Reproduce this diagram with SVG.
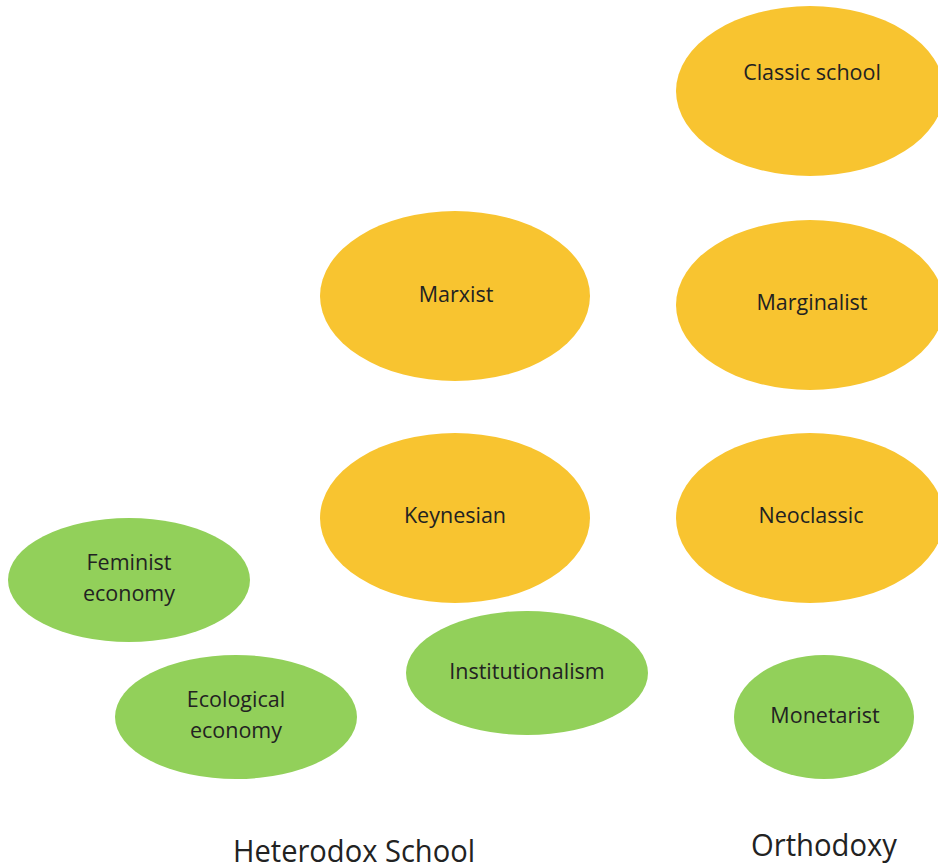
<svg xmlns="http://www.w3.org/2000/svg" width="938" height="867" viewBox="0 0 938 867">
<style>
.o{fill:#F8C430}
.g{fill:#92D05A}
.t{font-family:"Open Sans","Noto Sans",sans-serif;font-size:21.5px;fill:#222;text-anchor:middle}
.b{font-family:"Open Sans","Noto Sans",sans-serif;font-size:31px;fill:#222;text-anchor:middle}
</style>
<rect width="938" height="867" fill="#fff"/>
<g id="classic"><ellipse class="o" cx="810" cy="91" rx="134" ry="85"/><text class="t" x="812" y="80">Classic school</text></g>
<g id="marxist"><ellipse class="o" cx="455" cy="296" rx="135" ry="85"/><text class="t" x="456" y="302">Marxist</text></g>
<g id="marginalist"><ellipse class="o" cx="810" cy="305" rx="134" ry="85"/><text class="t" x="812" y="310">Marginalist</text></g>
<g id="keynesian"><ellipse class="o" cx="455" cy="518" rx="135" ry="85"/><text class="t" x="455" y="523">Keynesian</text></g>
<g id="neoclassic"><ellipse class="o" cx="810" cy="518" rx="134" ry="85"/><text class="t" x="811" y="523">Neoclassic</text></g>
<g id="feminist"><ellipse class="g" cx="129" cy="580" rx="121" ry="62"/><text class="t" x="129" y="570">Feminist</text><text class="t" x="129" y="601">economy</text></g>
<g id="ecological"><ellipse class="g" cx="236" cy="717" rx="121" ry="62"/><text class="t" x="236" y="707">Ecological</text><text class="t" x="236" y="738">economy</text></g>
<g id="institutionalism"><ellipse class="g" cx="527" cy="673" rx="121" ry="62"/><text class="t" x="527" y="679">Institutionalism</text></g>
<g id="monetarist"><ellipse class="g" cx="824" cy="717" rx="90" ry="62"/><text class="t" x="825" y="723">Monetarist</text></g>
<g id="connectors"/>
<text class="b" x="354" y="862" textLength="242" lengthAdjust="spacingAndGlyphs">Heterodox School</text>
<text class="b" x="824" y="856" textLength="146" lengthAdjust="spacingAndGlyphs">Orthodoxy</text>
</svg>
